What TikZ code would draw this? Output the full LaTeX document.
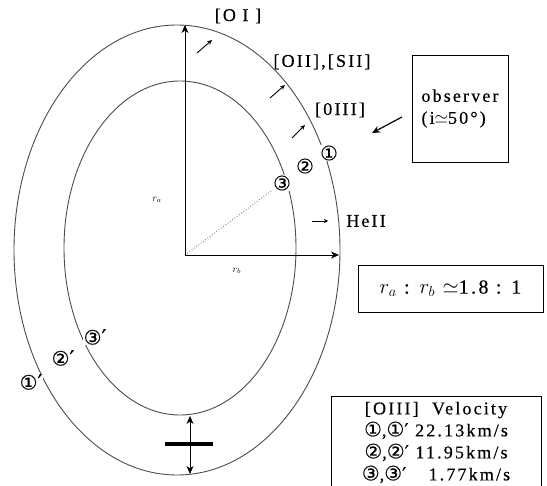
\documentclass[tikz,border=0pt]{standalone}
\usepackage{fontspec}
\setmainfont{Liberation Serif}
\newfontfamily\mfont[LetterSpace=12,FakeBold=0.35]{Liberation Serif}
\newfontfamily\dvs[FakeBold=0.3]{DejaVu Sans}
\usetikzlibrary{arrows.meta}
\newcommand\cA{{\dvs\fontsize{20}{22}\selectfont ①}}
\newcommand\cB{{\dvs\fontsize{20}{22}\selectfont ②}}
\newcommand\cC{{\dvs\fontsize{20}{22}\selectfont ③}}
\newcommand\prm{{\dvs ′}}
\begin{document}
\begin{tikzpicture}[x=1pt,y=-1pt,
  ring/.style={draw=black!70, line width=0.9pt},
  ax/.style={draw=black, line width=0.8pt, -{Stealth[length=8pt,width=7pt,inset=2.5pt]}},
  smallarr/.style={draw=black, line width=0.9pt, -{Stealth[length=5pt,width=4.5pt]}},
  lbl/.style={font=\mfont\fontsize{18}{22}\selectfont, inner sep=0pt},
  circ/.style={font=\dvs\fontsize{21}{22}\selectfont, fill=white, inner sep=0.3pt},
  boxed/.style={draw=black, line width=0.8pt, font=\mfont\fontsize{18}{22}\selectfont}
]
\useasboundingbox (0,0) rectangle (547,486);
% rings
\draw[ring] (177,250) ellipse [x radius=163, y radius=225];
\draw[ring] (180,248) ellipse [x radius=116, y radius=167];
% coordinates
\coordinate (O) at (185,255);
\coordinate (top) at (185,25);
\coordinate (rgt) at (339,255);
\coordinate (ib) at (190,416);
\coordinate (ob) at (190,474);
\coordinate (bl) at (165,444);
\coordinate (br) at (213,444);
% circled labels
\node[circ] (c1) at (329,153) {\cA};
\node[circ] (c2) at (305,166) {\cB};
\node[circ] (c3) at (282,183) {\cC};
\node[circ] (d1) at (31,382) {\cA\prm};
\node[circ] (d2) at (63,358) {\cB\prm};
\node[circ] (d3) at (95,337) {\cC\prm};
% axes
\draw[dotted, line width=0.8pt, black!60] (O) -- (c3);
\draw[ax] (O) -- (top);
\draw[ax] (O) -- (rgt);
\node[font=\fontsize{10}{12}\selectfont] (ra) at (157,200) {$r_a$};
\node[font=\fontsize{10}{12}\selectfont] (rb) at (237,271) {$r_b$};
% bottom thickness marker
\draw[line width=0.8pt, {Stealth[length=8pt,width=7pt,inset=2.5pt]}-{Stealth[length=8pt,width=7pt,inset=2.5pt]}] (ib) -- (ob);
\draw[line width=4pt] (bl) -- (br);
% line labels
\node[lbl] (oi) at (238,16) {[O I ]};
\node[lbl] (oii) at (322,62) {[OII],[SII]};
\node[lbl] (oiii) at (340,110) {[0III]};
\node[lbl] (he) at (366,221) {HeII};
\coordinate (a1s) at (197,53); \coordinate (a1e) at (212,40);
\coordinate (a2s) at (270,98); \coordinate (a2e) at (285,85);
\coordinate (a3s) at (292,138); \coordinate (a3e) at (305,125);
\coordinate (hs) at (312,221); \coordinate (he2) at (328,221);
\draw[smallarr] (a1s) -- (a1e);
\draw[smallarr] (a2s) -- (a2e);
\draw[smallarr] (a3s) -- (a3e);
\draw[draw=black, line width=0.6pt, -{Stealth[length=4pt,width=4pt]}] (hs) -- (he2);
% observer
\node[boxed, minimum width=96pt, minimum height=107pt, align=left, inner sep=2pt] (obs) at (460,108.5) {observer\\(i$\simeq$50°)};
\coordinate (os) at (402,117); \coordinate (oe) at (372,133);
\draw[line width=1.2pt, -{Stealth[length=8pt,width=7pt]}] (os) -- (oe);
% ratio
\node[draw=black, line width=0.8pt, minimum width=185pt, minimum height=47pt, font=\mfont\fontsize{20}{24}\selectfont] (ratio) at (450.5,288.5) {$r_a$ : $r_b$ $\simeq$1.8 : 1};
% velocity table
\node[boxed, minimum width=210pt, minimum height=93pt, align=center, inner sep=2pt] (vel) at (436,442.5)
 {[OIII]\ \ Velocity\\ \cA,\cA\prm\ 22.13km/s\\ \cB,\cB\prm\ 11.95km/s\\ \cC,\cC\prm\ \hphantom{1}\ 1.77km/s};
\end{tikzpicture}
\end{document}
